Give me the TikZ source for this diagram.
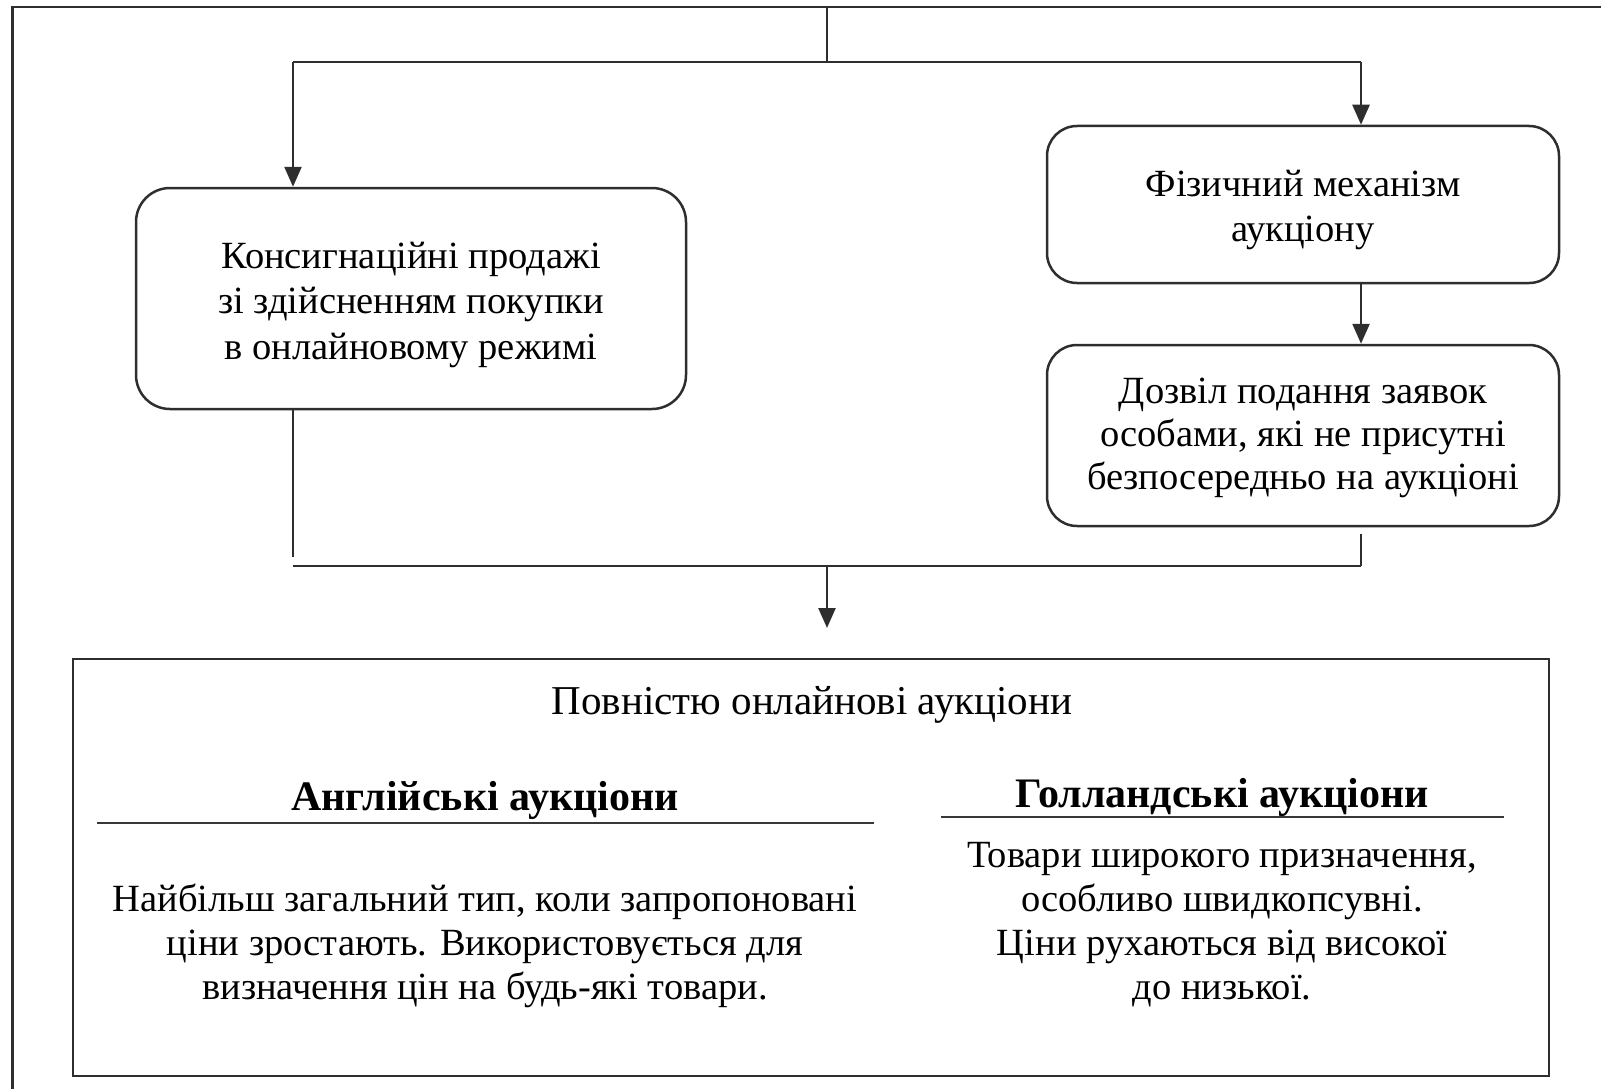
\documentclass[tikz,border=0pt]{standalone}
\usepackage{fontspec}
\setmainfont{Liberation Serif}
\usetikzlibrary{arrows.meta}
\begin{document}
\begin{tikzpicture}[x=1pt,y=-1pt,
  ln/.style={line width=2.5pt,draw=black!82},
  arr/.style={ln,-{Triangle[length=20pt,width=17pt]}},
  rbox/.style={ln,rounded corners=34pt,inner sep=0pt},
  txt/.style={align=center,inner sep=0pt,font=\fontsize{38.5}{44}\selectfont},
  hd/.style={inner sep=0pt,font=\fontsize{42}{46}\selectfont\bfseries}]
\useasboundingbox (0,0) rectangle (1601,1089);
% outer frame (left and top only)
\draw[ln] (12.5,1089) -- (12.5,7) -- (1601,7);
% boxes
\node[rbox,minimum width=550pt,minimum height=221pt] (lbox) at (411,298.5) {};
\node[rbox,rounded corners=30pt,minimum width=512pt,minimum height=157pt] (rb1) at (1303,204.5) {};
\node[rbox,rounded corners=30pt,minimum width=512pt,minimum height=181pt] (rb2) at (1303,435.5) {};
\node[ln,minimum width=1476pt,minimum height=417pt,inner sep=0pt] (bb) at (811,867.5) {};
% box texts
\node[txt,font=\fontsize{38.5}{45.5}\selectfont] (lboxt) at (411,304.5)
  {Консигнаційні продажі\\зі здійсненням покупки\\в онлайновому режимі};
\node[txt,font=\fontsize{38.5}{45}\selectfont] (rb1t) at (1303,209.5)
  {Фізичний механізм\\аукціону};
\node[txt,font=\fontsize{38.5}{43.4}\selectfont] (rb2t) at (1303,438)
  {Дозвіл подання заявок\\особами, які не присутні\\безпосередньо на аукціоні};
% top connectors
\coordinate (top) at (827,7);
\coordinate (tsplit) at (827,62);
\coordinate (tl) at (293,62);
\coordinate (tr) at (1361,62);
\draw[ln] (top) -- (tsplit);
\draw[ln] (tl) -- (tr);
\draw[arr] (tl) -- (tl |- lbox.north);
\draw[arr] (tr) -- (tr |- rb1.north);
\draw[arr] (tr |- rb1.south) -- (tr |- rb2.north);
% bottom connectors
\coordinate (bl) at (293,566);
\coordinate (br) at (1361,566);
\coordinate (bmid) at (827,566);
\coordinate (btip) at (827,628);
\coordinate (lend) at (293,557);
\coordinate (rstart) at (1361,534);
\draw[ln] (bl |- lbox.south) -- (lend);
\draw[ln] (rstart) -- (br);
\draw[ln] (bl) -- (br);
\draw[arr] (bmid) -- (btip);
% bottom box content
\node[txt,font=\fontsize{41}{46}\selectfont] (title) at (812,705) {Повністю онлайнові аукціони};
\node[hd] (eh) at (485,800) {Англійські аукціони};
\node[hd] (dh) at (1222,797) {Голландські аукціони};
\coordinate (el1) at (97,823);
\coordinate (el2) at (874,823);
\coordinate (dl1) at (941,817);
\coordinate (dl2) at (1504,817);
\draw[line width=1.9pt,draw=black!78] (el1) -- (el2);
\draw[line width=1.9pt,draw=black!78] (dl1) -- (dl2);
\node[txt,font=\fontsize{38.5}{43.9}\selectfont] (et) at (485,945.5)
  {Найбільш загальний тип, коли запропоновані\\ціни зростають. Використовується для\\визначення цін на будь-які товари.};
\node[txt,font=\fontsize{38.5}{43.9}\selectfont] (dt) at (1222,924.5)
  {Товари широкого призначення,\\особливо швидкопсувні.\\Ціни рухаються від високої\\до низької.};
\end{tikzpicture}
\end{document}
